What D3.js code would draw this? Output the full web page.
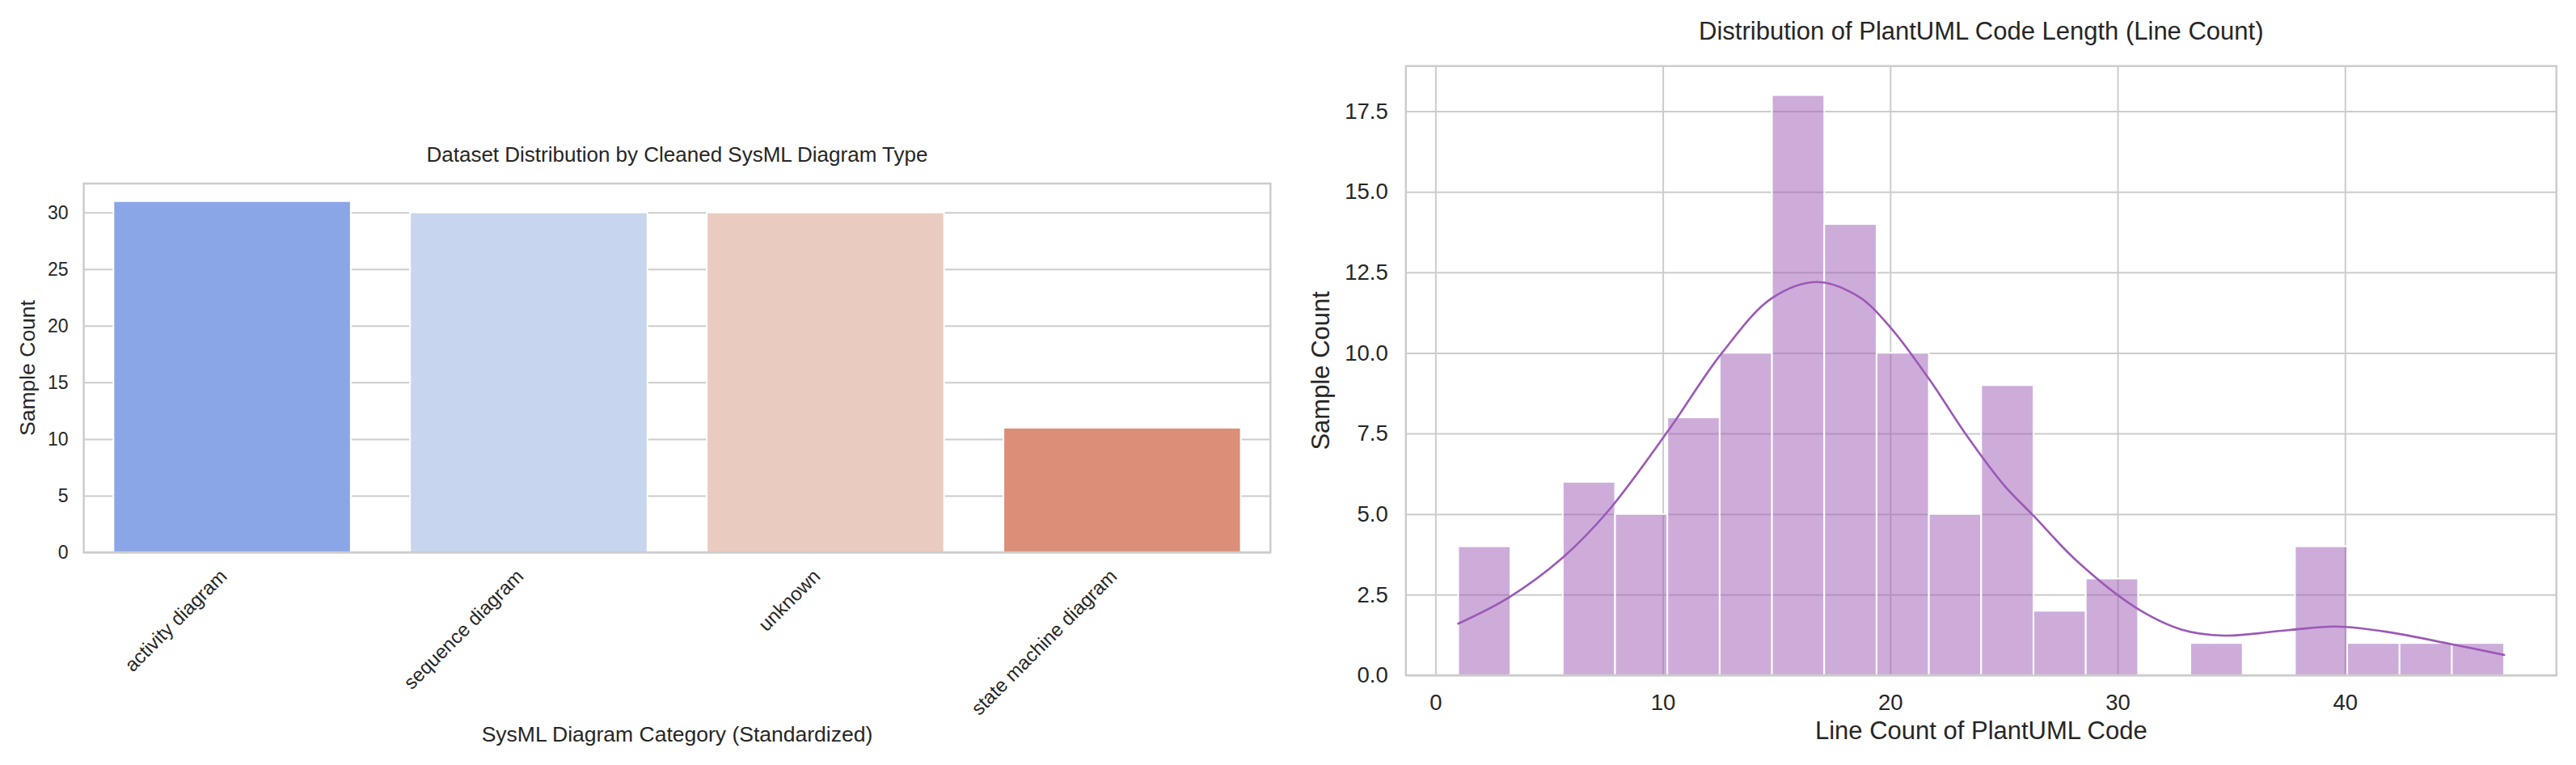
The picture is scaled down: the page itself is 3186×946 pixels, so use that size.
<!DOCTYPE html>
<html>
<head>
<meta charset="utf-8">
<title>SysML dataset distributions</title>
<script src="https://d3js.org/d3.v7.min.js"></script>
<style>
  body { margin: 0; background: #fff; }
  svg { display: block; font-family: "Liberation Sans", Arial, sans-serif; }
  .grid line { stroke: #cccccc; stroke-width: 2; }
  .tick text { fill: #262626; }
  .lbl { fill: #262626; }
</style>
</head>
<body>
<svg width="3186" height="946"></svg>
<script>

// ---- data: left chart (bar counts by diagram type)
const diagramTypes = ["activity diagram", "sequence diagram", "unknown", "state machine diagram"];
const typeCounts = [31, 30, 30, 11];
const typeColors = ["#8aa6e7", "#c7d5ef", "#e9ccbf", "#db8e78"];
const leftYTicks = [0, 5, 10, 15, 20, 25, 30];

// ---- data: right chart (histogram of line counts + kde)
const binEdges = [1, 3.3, 5.6, 7.9, 10.2, 12.5, 14.8, 17.1, 19.4, 21.7, 24,
                  26.3, 28.6, 30.9, 33.2, 35.5, 37.8, 40.1, 42.4, 44.7, 47];
const binCounts = [4, 0, 6, 5, 8, 10, 18, 14, 10, 5, 9, 2, 3, 0, 1, 0, 4, 1, 1, 1];
const kdeX = [1.0, 3.2, 5.6, 7.6, 10.2, 12.6, 14.8, 16.8, 18.6, 20.0, 21.7, 23.4,
              25.0, 26.3, 28.2, 30.8, 32.8, 34.7, 37.5, 39.6, 41.9, 44.7, 47.0];
const kdeY = [1.6, 2.4, 3.65, 5.1, 7.55, 10.0, 11.7, 12.2, 11.75, 10.8, 9.2, 7.4,
              5.9, 4.95, 3.55, 2.1, 1.42, 1.23, 1.4, 1.51, 1.34, 0.96, 0.63];
const rightXTicks = [0, 10, 20, 30, 40];
const rightYTicks = [0, 2.5, 5, 7.5, 10, 12.5, 15, 17.5];

const svg = d3.select('svg');
const fontFam = '"Liberation Sans", Arial, sans-serif';

// ================= left: bar chart =================
const L = { left: 103.6, right: 1571.3, top: 227, bottom: 683 };

const xL = d3.scaleBand()
    .domain(diagramTypes)
    .range([L.left, L.right])
    .paddingInner(0.2)
    .paddingOuter(0.1);

const yL = d3.scaleLinear()
    .domain([0, 32.55])
    .range([L.bottom, L.top]);

const gL = svg.append('g');

// horizontal grid
gL.append('g')
    .attr('class', 'grid')
    .attr('transform', `translate(${L.left},0)`)
    .call(d3.axisLeft(yL).tickValues(leftYTicks).tickSize(-(L.right - L.left)).tickFormat(''))
    .call(g => g.select('.domain').remove());

// bars
gL.selectAll('rect.bar')
    .data(diagramTypes)
    .enter().append('rect')
        .attr('class', 'bar')
        .attr('x', d => xL(d))
        .attr('width', xL.bandwidth())
        .attr('y', (d, i) => yL(typeCounts[i]))
        .attr('height', (d, i) => yL(0) - yL(typeCounts[i]))
        .attr('fill', (d, i) => typeColors[i])
        .attr('stroke', '#fff')
        .attr('stroke-width', 2);

// frame
gL.append('rect')
    .attr('x', L.left).attr('y', L.top)
    .attr('width', L.right - L.left).attr('height', L.bottom - L.top)
    .attr('fill', 'none').attr('stroke', '#cccccc').attr('stroke-width', 2.5);

// y axis labels
gL.append('g')
    .attr('transform', `translate(${L.left},0)`)
    .call(d3.axisLeft(yL).tickValues(leftYTicks).tickSize(0).tickPadding(19))
    .call(g => g.select('.domain').remove())
    .selectAll('text')
        .style('font-size', '23px')
        .style('font-family', fontFam);

// rotated category labels
gL.selectAll('text.cat')
    .data(diagramTypes)
    .enter().append('text')
        .attr('class', 'cat lbl')
        .attr('text-anchor', 'end')
        .attr('transform', d => `translate(${xL(d) + xL.bandwidth() / 2 - 5},${L.bottom + 31}) rotate(-45)`)
        .style('font-size', '24px')
        .text(d => d);

gL.append('text')
    .attr('class', 'lbl')
    .attr('x', (L.left + L.right) / 2).attr('y', 200)
    .attr('text-anchor', 'middle')
    .style('font-size', '26px')
    .text('Dataset Distribution by Cleaned SysML Diagram Type');

gL.append('text')
    .attr('class', 'lbl')
    .attr('x', (L.left + L.right) / 2).attr('y', 917)
    .attr('text-anchor', 'middle')
    .style('font-size', '26.5px')
    .text('SysML Diagram Category (Standardized)');

gL.append('text')
    .attr('class', 'lbl')
    .attr('transform', `translate(43,${(L.top + L.bottom) / 2}) rotate(-90)`)
    .attr('text-anchor', 'middle')
    .style('font-size', '26.5px')
    .text('Sample Count');

// ================= right: histogram =================
const R = { left: 1738.8, right: 3161.8, top: 81.7, bottom: 835 };

const xR = d3.scaleLinear()
    .domain([-1.3, 49.3])
    .range([R.left, R.right]);

const yR = d3.scaleLinear()
    .domain([0, 18.9])
    .range([R.bottom, R.top]);

const gR = svg.append('g');

gR.append('g')
    .attr('class', 'grid')
    .attr('transform', `translate(${R.left},0)`)
    .call(d3.axisLeft(yR).tickValues(rightYTicks).tickSize(-(R.right - R.left)).tickFormat(''))
    .call(g => g.select('.domain').remove());

gR.append('g')
    .attr('class', 'grid')
    .attr('transform', `translate(0,${R.bottom})`)
    .call(d3.axisBottom(xR).tickValues(rightXTicks).tickSize(-(R.bottom - R.top)).tickFormat(''))
    .call(g => g.select('.domain').remove());

const bins = binCounts.map((c, i) => ({ x0: binEdges[i], x1: binEdges[i + 1], count: c }))
    .filter(b => b.count > 0);

gR.selectAll('rect.bin')
    .data(bins)
    .enter().append('rect')
        .attr('class', 'bin')
        .attr('x', d => xR(d.x0))
        .attr('width', d => xR(d.x1) - xR(d.x0))
        .attr('y', d => yR(d.count))
        .attr('height', d => yR(0) - yR(d.count))
        .attr('fill', '#9b59b6')
        .attr('fill-opacity', 0.5)
        .attr('stroke', '#fff')
        .attr('stroke-width', 2);

const kdePts = kdeX.map((x, i) => [x, kdeY[i]]);
const kdeLine = d3.line()
    .x(d => xR(d[0]))
    .y(d => yR(d[1]))
    .curve(d3.curveCatmullRom.alpha(0.5));

gR.append('path')
    .datum(kdePts)
    .attr('d', kdeLine)
    .attr('fill', 'none')
    .attr('stroke', '#9b59b6')
    .attr('stroke-width', 2.6)
    .attr('stroke-linecap', 'round');

gR.append('rect')
    .attr('x', R.left).attr('y', R.top)
    .attr('width', R.right - R.left).attr('height', R.bottom - R.top)
    .attr('fill', 'none').attr('stroke', '#cccccc').attr('stroke-width', 2.5);

gR.append('g')
    .attr('transform', `translate(${R.left},0)`)
    .call(d3.axisLeft(yR).tickValues(rightYTicks).tickSize(0).tickPadding(22).tickFormat(d3.format('.1f')))
    .call(g => g.select('.domain').remove())
    .selectAll('text')
        .style('font-size', '27.5px')
        .style('font-family', fontFam);

gR.append('g')
    .attr('transform', `translate(0,${R.bottom})`)
    .call(d3.axisBottom(xR).tickValues(rightXTicks).tickSize(0).tickPadding(23))
    .call(g => g.select('.domain').remove())
    .selectAll('text')
        .style('font-size', '27.5px')
        .style('font-family', fontFam);

gR.append('text')
    .attr('class', 'lbl')
    .attr('x', (R.left + R.right) / 2).attr('y', 49)
    .attr('text-anchor', 'middle')
    .style('font-size', '31px')
    .text('Distribution of PlantUML Code Length (Line Count)');

gR.append('text')
    .attr('class', 'lbl')
    .attr('x', (R.left + R.right) / 2).attr('y', 914)
    .attr('text-anchor', 'middle')
    .style('font-size', '31px')
    .text('Line Count of PlantUML Code');

gR.append('text')
    .attr('class', 'lbl')
    .attr('transform', `translate(1644,${(R.top + R.bottom) / 2}) rotate(-90)`)
    .attr('text-anchor', 'middle')
    .style('font-size', '31px')
    .text('Sample Count');

</script>
</body>
</html>
